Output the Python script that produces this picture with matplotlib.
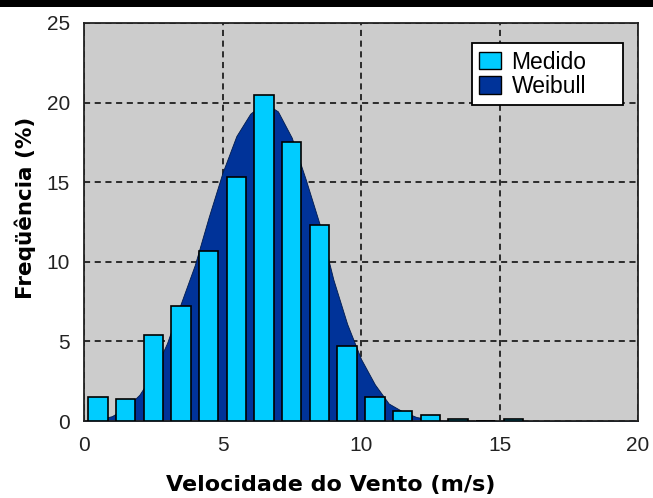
import matplotlib
matplotlib.use("Agg")
import matplotlib.pyplot as plt
from matplotlib.patches import Patch, Rectangle

# Measured histogram (bin centres, %)
bin_centers = [0.5, 1.5, 2.5, 3.5, 4.5, 5.5, 6.5, 7.5, 8.5, 9.5, 10.5, 11.5, 12.5, 13.5, 14.5, 15.5]
medido = [1.5, 1.4, 5.4, 7.2, 10.7, 15.3, 20.5, 17.5, 12.3, 4.7, 1.5, 0.65, 0.4, 0.1, 0.0, 0.1]

# Weibull curve
weib_x = [0, 0.5, 1.0, 1.5, 2.0, 2.5, 3.0, 3.5, 4.0, 4.5, 5.0, 5.5, 6.0, 6.5, 7.0, 7.5,
          8.0, 8.5, 9.0, 9.5, 10.0, 10.5, 11.0, 11.5, 12.0, 12.5, 13.0, 14.0, 20.0]
weib_y = [0, 0.1, 0.3, 0.8, 1.65, 3.0, 4.9, 7.4, 9.8, 12.8, 15.6, 17.9, 19.3, 20.0, 19.45, 17.8,
          15.2, 12.4, 8.9, 6.1, 3.9, 2.3, 1.1, 0.6, 0.25, 0.1, 0.05, 0.0, 0.0]

xticks = [0, 5, 10, 15, 20]
yticks = [0, 5, 10, 15, 20, 25]

plt.rcParams['font.family'] = ['Liberation Sans', 'DejaVu Sans']

fig = plt.figure(figsize=(6.53, 4.98), dpi=100)
fig.patches.append(Rectangle((0, 1 - 7/498), 1, 7/498, transform=fig.transFigure,
                             facecolor='black', edgecolor='none', zorder=10))
ax = fig.add_axes([84/653, 77/498, 554/653, 398/498])
ax.set_facecolor('#cccccc')

ax.fill_between(weib_x, weib_y, 0, color='#003399', edgecolor='#001a4d', linewidth=0.6, zorder=2)
ax.bar(bin_centers, medido, width=0.7, color='#00ccff', edgecolor='black', linewidth=1.2, zorder=3)

ax.set_xlim(0, 20)
ax.set_ylim(0, 25)
ax.set_xticks(xticks)
ax.set_yticks(yticks)
ax.grid(True, color='black', linestyle=(0, (4, 3)), linewidth=1.1, zorder=1)
ax.set_axisbelow(True)
ax.tick_params(length=0, labelsize=15, colors='#222222')
ax.tick_params(axis='x', pad=11)
ax.tick_params(axis='y', pad=10)
for s in ax.spines.values():
    s.set_linewidth(1.3)
    s.set_color('#222222')

ax.set_xlabel('Velocidade do Vento (m/s)', fontsize=16, fontweight='bold',
              family='DejaVu Sans', labelpad=14, x=0.446)
ax.set_ylabel('Freqüência (%)', fontsize=15.5, fontweight='bold',
              family='DejaVu Sans', labelpad=8, y=0.535)

handles = [Patch(facecolor='#00ccff', edgecolor='black', label='Medido'),
           Patch(facecolor='#003399', edgecolor='black', label='Weibull')]
leg = ax.legend(handles=handles, loc='upper left',
                bbox_to_anchor=(0.700, 0.804, 0.2726, 0.1457), mode='expand',
                borderaxespad=0, fontsize=16.5, fancybox=False, framealpha=1, edgecolor='black',
                handlelength=0.95, handleheight=0.8, handletextpad=0.45,
                borderpad=0.33, labelspacing=0.05)
leg.get_frame().set_linewidth(1.3)
leg.set_zorder(5)

fig.savefig('out.png', dpi=100)
